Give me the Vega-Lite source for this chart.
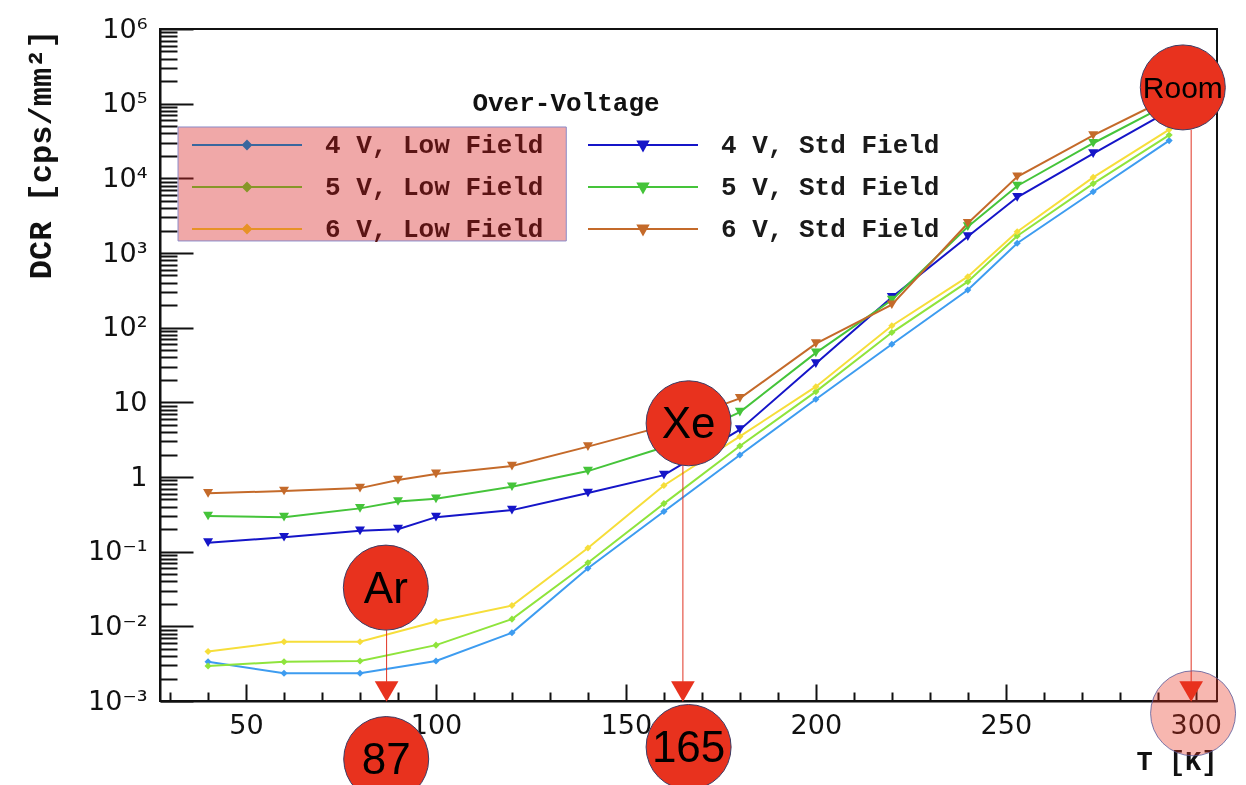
{
  "$schema": "https://vega.github.io/schema/vega-lite/v6.json",
  "width": 1057,
  "height": 672,
  "autosize": "none",
  "padding": {"left": 160, "top": 29, "right": 29, "bottom": 84},
  "background": "white",
  "config": {"view": {"stroke": "#111", "strokeWidth": 2}},
  "datasets": {
    "dcr": [
      {"series": "4 V, Low Field", "T": 40, "DCR": 0.00336},
      {"series": "4 V, Low Field", "T": 60, "DCR": 0.00235},
      {"series": "4 V, Low Field", "T": 80, "DCR": 0.00235},
      {"series": "4 V, Low Field", "T": 100, "DCR": 0.00344},
      {"series": "4 V, Low Field", "T": 120, "DCR": 0.0082},
      {"series": "4 V, Low Field", "T": 140, "DCR": 0.06},
      {"series": "4 V, Low Field", "T": 160, "DCR": 0.345},
      {"series": "4 V, Low Field", "T": 180, "DCR": 1.97},
      {"series": "4 V, Low Field", "T": 200, "DCR": 11},
      {"series": "4 V, Low Field", "T": 220, "DCR": 60},
      {"series": "4 V, Low Field", "T": 240, "DCR": 320},
      {"series": "4 V, Low Field", "T": 253, "DCR": 1350},
      {"series": "4 V, Low Field", "T": 273, "DCR": 6620},
      {"series": "4 V, Low Field", "T": 293, "DCR": 32000},
      {"series": "5 V, Low Field", "T": 40, "DCR": 0.00294},
      {"series": "5 V, Low Field", "T": 60, "DCR": 0.00336},
      {"series": "5 V, Low Field", "T": 80, "DCR": 0.00344},
      {"series": "5 V, Low Field", "T": 100, "DCR": 0.0056},
      {"series": "5 V, Low Field", "T": 120, "DCR": 0.0125},
      {"series": "5 V, Low Field", "T": 140, "DCR": 0.071},
      {"series": "5 V, Low Field", "T": 160, "DCR": 0.44},
      {"series": "5 V, Low Field", "T": 180, "DCR": 2.6},
      {"series": "5 V, Low Field", "T": 200, "DCR": 13.9},
      {"series": "5 V, Low Field", "T": 220, "DCR": 86},
      {"series": "5 V, Low Field", "T": 240, "DCR": 413},
      {"series": "5 V, Low Field", "T": 253, "DCR": 1690},
      {"series": "5 V, Low Field", "T": 273, "DCR": 8500},
      {"series": "5 V, Low Field", "T": 293, "DCR": 38000},
      {"series": "6 V, Low Field", "T": 40, "DCR": 0.0046},
      {"series": "6 V, Low Field", "T": 60, "DCR": 0.0062},
      {"series": "6 V, Low Field", "T": 80, "DCR": 0.0062},
      {"series": "6 V, Low Field", "T": 100, "DCR": 0.0116},
      {"series": "6 V, Low Field", "T": 120, "DCR": 0.019},
      {"series": "6 V, Low Field", "T": 140, "DCR": 0.112},
      {"series": "6 V, Low Field", "T": 160, "DCR": 0.77},
      {"series": "6 V, Low Field", "T": 180, "DCR": 3.5},
      {"series": "6 V, Low Field", "T": 200, "DCR": 16.2},
      {"series": "6 V, Low Field", "T": 220, "DCR": 106},
      {"series": "6 V, Low Field", "T": 240, "DCR": 482},
      {"series": "6 V, Low Field", "T": 253, "DCR": 1930},
      {"series": "6 V, Low Field", "T": 273, "DCR": 10300},
      {"series": "6 V, Low Field", "T": 293, "DCR": 45000},
      {"series": "4 V, Std Field", "T": 40, "DCR": 0.132},
      {"series": "4 V, Std Field", "T": 60, "DCR": 0.156},
      {"series": "4 V, Std Field", "T": 80, "DCR": 0.19},
      {"series": "4 V, Std Field", "T": 90, "DCR": 0.2},
      {"series": "4 V, Std Field", "T": 100, "DCR": 0.29},
      {"series": "4 V, Std Field", "T": 120, "DCR": 0.36},
      {"series": "4 V, Std Field", "T": 140, "DCR": 0.61},
      {"series": "4 V, Std Field", "T": 160, "DCR": 1.06},
      {"series": "4 V, Std Field", "T": 180, "DCR": 4.3},
      {"series": "4 V, Std Field", "T": 200, "DCR": 33},
      {"series": "4 V, Std Field", "T": 220, "DCR": 255},
      {"series": "4 V, Std Field", "T": 240, "DCR": 1660},
      {"series": "4 V, Std Field", "T": 253, "DCR": 5570},
      {"series": "4 V, Std Field", "T": 273, "DCR": 21400},
      {"series": "4 V, Std Field", "T": 293, "DCR": 80000},
      {"series": "5 V, Std Field", "T": 40, "DCR": 0.3},
      {"series": "5 V, Std Field", "T": 60, "DCR": 0.29},
      {"series": "5 V, Std Field", "T": 80, "DCR": 0.38},
      {"series": "5 V, Std Field", "T": 90, "DCR": 0.47},
      {"series": "5 V, Std Field", "T": 100, "DCR": 0.51},
      {"series": "5 V, Std Field", "T": 120, "DCR": 0.74},
      {"series": "5 V, Std Field", "T": 140, "DCR": 1.2},
      {"series": "5 V, Std Field", "T": 160, "DCR": 2.5},
      {"series": "5 V, Std Field", "T": 180, "DCR": 7.4},
      {"series": "5 V, Std Field", "T": 200, "DCR": 46},
      {"series": "5 V, Std Field", "T": 220, "DCR": 235},
      {"series": "5 V, Std Field", "T": 240, "DCR": 2250},
      {"series": "5 V, Std Field", "T": 253, "DCR": 7900},
      {"series": "5 V, Std Field", "T": 273, "DCR": 29500},
      {"series": "5 V, Std Field", "T": 293, "DCR": 100000},
      {"series": "6 V, Std Field", "T": 40, "DCR": 0.605},
      {"series": "6 V, Std Field", "T": 60, "DCR": 0.65},
      {"series": "6 V, Std Field", "T": 80, "DCR": 0.71},
      {"series": "6 V, Std Field", "T": 90, "DCR": 0.91},
      {"series": "6 V, Std Field", "T": 100, "DCR": 1.1},
      {"series": "6 V, Std Field", "T": 120, "DCR": 1.4},
      {"series": "6 V, Std Field", "T": 140, "DCR": 2.55},
      {"series": "6 V, Std Field", "T": 160, "DCR": 4.8},
      {"series": "6 V, Std Field", "T": 180, "DCR": 11.3},
      {"series": "6 V, Std Field", "T": 200, "DCR": 61},
      {"series": "6 V, Std Field", "T": 220, "DCR": 203},
      {"series": "6 V, Std Field", "T": 240, "DCR": 2500},
      {"series": "6 V, Std Field", "T": 253, "DCR": 10500},
      {"series": "6 V, Std Field", "T": 273, "DCR": 37500},
      {"series": "6 V, Std Field", "T": 293, "DCR": 120000}
    ],
    "highlight": [
      {"T": 32.1, "T2": 134.3, "DCR": 48700, "DCR2": 1450}
    ],
    "arrows": [
      {"T": 87, "DCR": 0.0089, "DCR2": 0.0018},
      {"T": 165, "DCR": 1.42, "DCR2": 0.0018},
      {"T": 298.8, "DCR": 44400, "DCR2": 0.0018}
    ],
    "heads": [
      {"T": 87, "DCR": 0.00134},
      {"T": 165, "DCR": 0.00134},
      {"T": 298.8, "DCR": 0.00134}
    ],
    "bubbles": [
      {"T": 86.8, "DCR": 0.033, "label": "Ar"},
      {"T": 86.9, "DCR": 0.000167, "label": "87"},
      {"T": 166.5, "DCR": 5.24, "label": "Xe"},
      {"T": 166.5, "DCR": 0.000242, "label": "165"},
      {"T": 296.6, "DCR": 165000, "label": "Room"}
    ],
    "ring": [
      {"T": 299.3, "DCR": 0.000684}
    ]
  },
  "resolve": {"axis": {"x": "independent", "y": "independent"}},
  "layer": [
    {
      "data": {"name": "highlight"},
      "mark": {"type": "rect", "fill": "#da2626", "fillOpacity": 0.4, "stroke": "#8a8ac8", "strokeWidth": 1},
      "encoding": {
        "x": {"field": "T", "type": "quantitative",
          "scale": {"domain": [27.35, 305.6], "nice": false, "zero": false},
          "axis": {"orient": "bottom", "values": [30,40,60,70,80,90,110,120,130,140,160,170,180,190,210,220,230,240,260,270,280,290],
            "tickSize": -9, "tickWidth": 2, "tickColor": "#111", "labels": false, "domain": false, "grid": false, "title": null}},
        "x2": {"field": "T2"},
        "y": {"field": "DCR", "type": "quantitative",
          "scale": {"type": "log", "domain": [0.001, 1000000], "nice": false},
          "axis": {"orient": "left", "values": [0.002,0.003,0.004,0.005,0.006,0.007,0.008,0.009,0.02,0.03,0.04,0.05,0.06,0.07,0.08,0.09,0.2,0.3,0.4,0.5,0.6,0.7,0.8,0.9,2,3,4,5,6,7,8,9,20,30,40,50,60,70,80,90,200,300,400,500,600,700,800,900,2000,3000,4000,5000,6000,7000,8000,9000,20000,30000,40000,50000,60000,70000,80000,90000,200000,300000,400000,500000,600000,700000,800000,900000],
            "tickSize": -17, "tickWidth": 2, "tickColor": "#111", "labels": false, "domain": false, "grid": false, "title": null}},
        "y2": {"field": "DCR2"}
      }
    },
    {
      "data": {"name": "dcr"},
      "mark": {"type": "line", "strokeWidth": 2},
      "encoding": {
        "x": {"field": "T", "type": "quantitative",
          "scale": {"domain": [27.35, 305.6], "nice": false, "zero": false},
          "axis": {"orient": "bottom", "values": [50,100,150,200,250,300], "tickSize": -17, "tickWidth": 2, "tickColor": "#111",
            "domainColor": "#111", "domainWidth": 2, "grid": false, "labelFlush": false, "labelOverlap": false,
            "labelFont": "DejaVu Sans", "labelFontSize": 27, "labelColor": "#111", "labelPadding": 28,
            "title": "T  [K]", "titleAnchor": "end", "titleFont": "Liberation Mono", "titleFontWeight": "bold", "titleFontSize": 27, "titleColor": "#111", "titlePadding": 10}},
        "y": {"field": "DCR", "type": "quantitative",
          "scale": {"type": "log", "domain": [0.001, 1000000], "nice": false},
          "axis": {"orient": "left", "values": [0.001,0.01,0.1,1,10,100,1000,10000,100000,1000000], "tickSize": -33, "tickWidth": 2, "tickColor": "#111",
            "domainColor": "#111", "domainWidth": 2, "grid": false, "labelFlush": false, "labelOverlap": false,
            "labelExpr": "['10⁻³','10⁻²','10⁻¹','1','10','10²','10³','10⁴','10⁵','10⁶'][round(log(datum.value)/LN10)+3]",
            "labelFont": "DejaVu Sans", "labelFontSize": 27, "labelColor": "#111", "labelPadding": 46,
            "title": "DCR  [cps/mm²]", "titleAnchor": "end", "titleFont": "Liberation Mono", "titleFontWeight": "bold", "titleFontSize": 32, "titleColor": "#111", "titlePadding": 30}},
        "color": {"field": "series", "type": "nominal",
          "scale": {"domain": ["4 V, Low Field","5 V, Low Field","6 V, Low Field","4 V, Std Field","5 V, Std Field","6 V, Std Field"],
                    "range": ["#3d9cf0","#8fe43c","#f6de3a","#1515c8","#45c43a","#c46a2a"]},
          "legend": {
            "orient": "none", "legendX": 32, "legendY": 61, "columns": 2, "direction": "vertical",
            "padding": 0, "rowPadding": 16, "columnPadding": 40,
            "title": "Over-Voltage", "titleFont": "Liberation Mono", "titleFontWeight": "bold", "titleFontSize": 26, "titleColor": "#111",
            "titleAnchor": "middle", "titleLimit": 0, "titlePadding": 16,
            "labelFont": "Liberation Mono", "labelFontWeight": "bold", "labelFontSize": 26, "labelLimit": 0, "labelOffset": 107,
            "symbolSize": 400, "symbolStrokeWidth": 2,
            "encode": {
              "symbols": {"update": {
                "shape": {"signal": "indexof(datum.value, 'Std') >= 0 ? 'M-1.3,0H9.7M3.7,-0.35L4.7,-0.35L4.2,0.55Z' : 'M-1.3,0H9.7M4.2,-0.4L4.6,0L4.2,0.4L3.8,0Z'"},
                "blend": {"signal": "indexof(datum.value, 'Low') >= 0 ? 'multiply' : 'normal'"},
                "strokeWidth": {"value": 2},
                "opacity": {"value": 1}
              }},
              "labels": {"update": {
                "fill": {"signal": "indexof(datum.value, 'Low') >= 0 ? '#5a1414' : '#1a1a1a'"}
              }}
            }
          }
        }
      }
    },
    {
      "data": {"name": "dcr"},
      "mark": {"type": "point", "filled": true, "opacity": 1},
      "encoding": {
        "x": {"field": "T", "type": "quantitative", "scale": {"domain": [27.35, 305.6], "nice": false, "zero": false}, "axis": null},
        "y": {"field": "DCR", "type": "quantitative", "scale": {"type": "log", "domain": [0.001, 1000000], "nice": false}, "axis": null},
        "color": {"field": "series", "type": "nominal"},
        "shape": {"condition": {"test": "indexof(datum.series, 'Std') >= 0", "value": "triangle-down"}, "value": "diamond"},
        "size": {"condition": {"test": "indexof(datum.series, 'Std') >= 0", "value": 100}, "value": 50}
      }
    },
    {
      "data": {"name": "arrows"},
      "mark": {"type": "rule", "color": "#e03424", "strokeWidth": 1},
      "encoding": {
        "x": {"field": "T", "type": "quantitative", "scale": {"domain": [27.35, 305.6], "nice": false, "zero": false}, "axis": null},
        "y": {"field": "DCR", "type": "quantitative", "scale": {"type": "log", "domain": [0.001, 1000000], "nice": false}, "axis": null},
        "y2": {"field": "DCR2"}
      }
    },
    {
      "data": {"name": "heads"},
      "mark": {"type": "point", "shape": "triangle-down", "filled": true, "color": "#e8321e", "opacity": 1, "size": 560},
      "encoding": {
        "x": {"field": "T", "type": "quantitative", "scale": {"domain": [27.35, 305.6], "nice": false, "zero": false}, "axis": null},
        "y": {"field": "DCR", "type": "quantitative", "scale": {"type": "log", "domain": [0.001, 1000000], "nice": false}, "axis": null}
      }
    },
    {
      "data": {"name": "bubbles"},
      "mark": {"type": "point", "shape": "circle", "filled": true, "fill": "#e8321e", "fillOpacity": 1, "opacity": 1, "stroke": "#3c3c64", "strokeWidth": 1, "size": 7225},
      "encoding": {
        "x": {"field": "T", "type": "quantitative", "scale": {"domain": [27.35, 305.6], "nice": false, "zero": false}, "axis": null},
        "y": {"field": "DCR", "type": "quantitative", "scale": {"type": "log", "domain": [0.001, 1000000], "nice": false}, "axis": null}
      }
    },
    {
      "data": {"name": "ring"},
      "mark": {"type": "point", "shape": "circle", "filled": true, "fill": "#e8321e", "fillOpacity": 0.35, "opacity": 1, "stroke": "#5a5a9a", "strokeOpacity": 0.8, "strokeWidth": 1, "size": 7225},
      "encoding": {
        "x": {"field": "T", "type": "quantitative", "scale": {"domain": [27.35, 305.6], "nice": false, "zero": false}, "axis": null},
        "y": {"field": "DCR", "type": "quantitative", "scale": {"type": "log", "domain": [0.001, 1000000], "nice": false}, "axis": null}
      }
    },
    {
      "data": {"name": "bubbles"},
      "mark": {"type": "text", "font": "Liberation Sans", "color": "#000", "align": "center", "baseline": "middle", "dy": 2},
      "encoding": {
        "x": {"field": "T", "type": "quantitative", "scale": {"domain": [27.35, 305.6], "nice": false, "zero": false}, "axis": null},
        "y": {"field": "DCR", "type": "quantitative", "scale": {"type": "log", "domain": [0.001, 1000000], "nice": false}, "axis": null},
        "text": {"field": "label"},
        "size": {"condition": {"test": "datum.label === 'Room'", "value": 30}, "value": 44}
      }
    }
  ]
}
